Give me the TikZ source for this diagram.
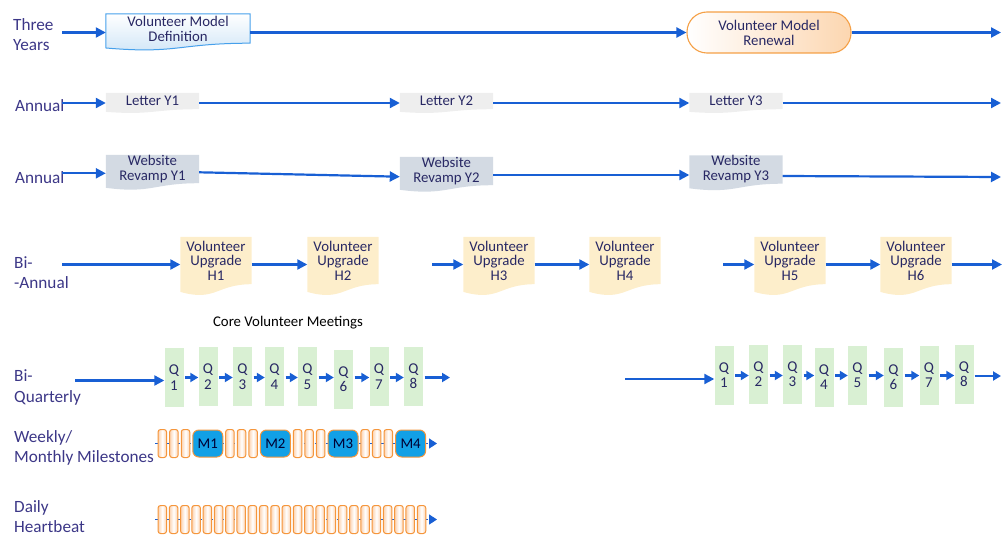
\documentclass[tikz,border=0pt]{standalone}
\usepackage{fontspec}
\setmainfont{Carlito}
\usetikzlibrary{arrows.meta,backgrounds,calc}
\definecolor{arrowblue}{RGB}{24,95,212}
\definecolor{labelcol}{RGB}{60,55,135}
\definecolor{textcol}{RGB}{40,40,100}
\definecolor{defblue}{RGB}{207,229,247}
\definecolor{defborder}{RGB}{70,160,235}
\definecolor{renfill}{RGB}{252,214,176}
\definecolor{renborder}{RGB}{245,160,70}
\definecolor{lettergray}{RGB}{238,238,238}
\definecolor{webgray}{RGB}{211,218,227}
\definecolor{upyellow}{RGB}{253,238,203}
\definecolor{qgreen}{RGB}{217,240,211}
\definecolor{hbfill}{RGB}{252,210,175}
\definecolor{hborder}{RGB}{245,150,60}
\definecolor{mblue}{RGB}{18,160,230}
\newcommand{\docbg}[2]{\path[#2] let \p1=(#1.north west), \p2=(#1.south east), \n1={\y1-\y2} in (\x1,\y1) -- (\x2,\y1) -- (\x2,\y2) .. controls ({0.5*(\x1+\x2)},\y2) and ({0.5*(\x1+\x2)},{\y2-0.375*\n1}) .. (\x1,{\y2-0.1625*\n1}) -- cycle;}
\begin{document}
\begin{tikzpicture}[x=1pt,y=-1pt,
  lab/.style={anchor=west,align=left,inner sep=0pt,text=labelcol,font=\fontsize{17.2}{20.5}\selectfont},
  box/.style={inner sep=0pt,align=center,text=textcol,font=\fontsize{14.8}{15}\selectfont},
  arr/.style={draw=arrowblue,line width=2.2pt,-{Triangle[length=10pt,width=10pt]}},
  sarr/.style={draw=arrowblue,line width=2.2pt,-{Triangle[length=8pt,width=9pt]}},
  qbox/.style={box,fill=qgreen,minimum width=19pt,minimum height=59pt,font=\fontsize{15}{15.5}\selectfont},
  hb/.style={draw=hborder,line width=1pt,rounded corners=2.5pt,left color=hbfill,right color=hbfill,middle color=white,minimum width=8.5pt,minimum height=28pt,inner sep=0pt},
  mbox/.style={box,draw=hborder,line width=1pt,fill=mblue,rounded corners=6pt,minimum width=30pt,minimum height=27pt,text=black!80!blue},
  dline/.style={draw=arrowblue,line width=1.5pt,dash pattern=on 3pt off 2.5pt,-{Triangle[length=8pt,width=10pt]}}
]
\useasboundingbox (0,0) rectangle (1006,535);

% row coordinates
\coordinate (y1) at (0,32.5);
\coordinate (y2) at (0,103);
\coordinate (y4) at (0,264.5);
\coordinate (y5) at (0,377.5);
\coordinate (y6) at (0,375.5);

% ---------- labels
\node[lab] (lab1) at (13,34.5) {Three\\Years};
\node[lab] (lab2) at (15,105.5) {Annual};
\node[lab] (lab3) at (15,178) {Annual};
\node[lab] (lab4) at (14,272.5) {Bi-\\-Annual};
\node[lab] (lab5) at (14,387.5) {Bi-\\Quarterly};
\node[lab] (lab6) at (14,448) {Weekly/\\Monthly Milestones};
\node[lab] (lab7) at (14,516.5) {Daily\\Heartbeat};

% ---------- row 1
\node[box,minimum width=144pt,minimum height=29pt] (def) at (178,28.5) {Volunteer Model\\Definition};
\node[box,draw=renborder,line width=1.1pt,rounded corners=20pt,left color=white,right color=renfill,minimum width=164pt,minimum height=41pt] (ren) at (769,32.5) {Volunteer Model\\Renewal};
\coordinate (s1) at (62,32.5);
\coordinate (e1) at (1001,32.5);
\draw[arr] (s1) -- (def.west |- y1);
\draw[arr] (def.east |- y1) -- (ren.west |- y1);
\draw[arr] (ren.east |- y1) -- (e1);

% ---------- row 2
\node[box,minimum width=93pt,minimum height=16pt] (let1) at (152.5,101) {Letter Y1};
\node[box,minimum width=93pt,minimum height=16pt] (let2) at (446.5,101) {Letter Y2};
\node[box,minimum width=93pt,minimum height=16pt] (let3) at (736,101) {Letter Y3};
\coordinate (s2) at (62,103);
\coordinate (e2) at (1001,103);
\draw[arr] (s2) -- (let1.west |- y2);
\draw[arr] (let1.east |- y2) -- (let2.west |- y2);
\draw[arr] (let2.east |- y2) -- (let3.west |- y2);
\draw[arr] (let3.east |- y2) -- (e2);

% ---------- row 3
\node[box,minimum width=93pt,minimum height=28pt] (web1) at (152.5,169) {Website\\Revamp Y1};
\node[box,minimum width=93pt,minimum height=28pt] (web2) at (446.5,171) {Website\\Revamp Y2};
\node[box,minimum width=93pt,minimum height=28pt] (web3) at (736,169.5) {Website\\Revamp Y3};
\coordinate (s3) at (62,173.3);
\coordinate (e3) at (1001,177);
\draw[arr] (s3) -- (web1.west |- s3);
\draw[arr] ([yshift=-3.3pt]web1.east) -- ([yshift=-5.7pt]web2.west);
\draw[arr] ([yshift=-4pt]web2.east) -- ([yshift=-5.5pt]web3.west);
\draw[arr] ([yshift=-6.5pt]web3.east) -- (e3);

% ---------- row 4
\foreach \nm/\x/\h in {h1/216/H1,h2/343/H2,h3/499/H3,h4/625/H4,h5/790/H5,h6/916/H6}
  \node[box,minimum width=71pt,minimum height=47pt,font=\fontsize{14.8}{14.5}\selectfont] (\nm) at (\x,260.5) {Volunteer\\Upgrade\\\h};
\coordinate (s4) at (62,264.5);
\coordinate (s4b) at (432,264.5);
\coordinate (s4c) at (723,264.5);
\coordinate (e4) at (1002,264.5);
\draw[arr] (s4) -- (h1.west |- y4);
\draw[arr] (h1.east |- y4) -- (h2.west |- y4);
\draw[arr] (s4b) -- (h3.west |- y4);
\draw[arr] (h3.east |- y4) -- (h4.west |- y4);
\draw[arr] (s4c) -- (h5.west |- y4);
\draw[arr] (h5.east |- y4) -- (h6.west |- y4);
\draw[arr] (h6.east |- y4) -- (e4);

\node[inner sep=0pt,font=\fontsize{14.8}{15}\selectfont,text=black] (core) at (288,323) {Core Volunteer Meetings};

% ---------- row 5
\foreach \i/\x/\y in {1/174/377.5,2/208/376.5,3/242.5/376.5,4/274.5/376.5,5/307.5/376.5,6/343.5/379,7/379/376.5,8/413.5/376}
  \node[qbox] (q\i) at (\x,\y) {Q\\\i};
\foreach \i/\x/\y in {1/724/375,2/758.5/374,3/792.5/374,4/824/377,5/857.5/375,6/893.5/377,7/929/375,8/964/374}
  \node[qbox] (r\i) at (\x,\y) {Q\\\i};
\coordinate (s5) at (75,380.5);
\coordinate (e5) at (450,377.5);
\coordinate (s6) at (625,379);
\coordinate (e6) at (1001,376);
\draw[arr] (s5) -- (q1.west |- s5);
\draw[arr] (s6) -- (r1.west |- s6);
\foreach \a/\b in {1/2,2/3,3/4,4/5,5/6,6/7,7/8} {
  \draw[sarr] ([xshift=1.5pt]q\a.east |- y5) -- (q\b.west |- y5);
  \draw[sarr] ([xshift=1.5pt]r\a.east |- y6) -- (r\b.west |- y6);
}
\draw[sarr] ([xshift=1.5pt]q8.east |- y5) -- (e5);
\draw[sarr] ([xshift=1pt]r8.east |- e6) -- (e6);

% ---------- row 6 weekly
\coordinate (w0) at (155,443.5);
\coordinate (wend) at (437,443.5);
\draw[dline] (w0) -- (wend);
\foreach \g [evaluate=\g as \mm using int(\g+1)] in {0,...,3} {
  \foreach \k in {0,1,2}
    \node[hb] (w\g\k) at ({162.3+67.6*\g+11.6*\k},443.5) {};
  \node[mbox] (m\g) at ({207.8+67.6*\g},443.5) {M\mm};
}

% ---------- row 7 daily
\coordinate (d0) at (155,519.5);
\coordinate (dend) at (437,519.5);
\draw[dline] (d0) -- (dend);
\foreach \i in {0,...,23}
  \node[hb] (hb\i) at ({162.3+11.27*\i},519.5) {};

% ---------- document-shaped backgrounds
\begin{scope}[on background layer]
  \docbg{def}{top color=white,bottom color=defblue,draw=defborder,line width=1pt}
  \foreach \nm in {let1,let2,let3} {\docbg{\nm}{fill=lettergray}}
  \foreach \nm in {web1,web2,web3} {\docbg{\nm}{fill=webgray}}
  \foreach \nm in {h1,h2,h3,h4,h5,h6} {\docbg{\nm}{fill=upyellow}}
\end{scope}
\end{tikzpicture}
\end{document}
